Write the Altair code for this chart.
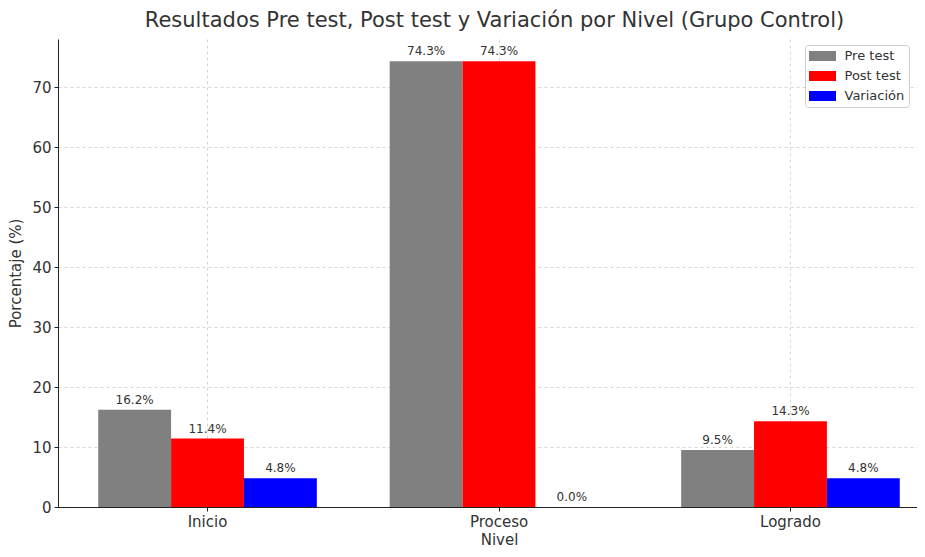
import altair as alt
import pandas as pd

niveles = ["Inicio", "Proceso", "Logrado"]
series = ["Pre test", "Post test", "Variación"]
pre_test = [16.2, 74.3, 9.5]
post_test = [11.4, 74.3, 14.3]
variacion = [4.8, 0.0, 4.8]
colores = ["#808080", "#ff0000", "#0000ff"]
y_ticks = [0, 10, 20, 30, 40, 50, 60, 70]

rows = []
for serie, vals in zip(series, [pre_test, post_test, variacion]):
    for n, v in zip(niveles, vals):
        rows.append({"Nivel": n, "Serie": serie, "Valor": v})
df = pd.DataFrame(rows)

FONT = "DejaVu Sans"
TXT = "#333333"

x_enc = alt.X(
    "Nivel:N",
    sort=niveles,
    scale=alt.Scale(domain=niveles, range=[0, 882], paddingInner=0.25, paddingOuter=0.138),
    axis=alt.Axis(
        title="Nivel", labelAngle=0, labelFontSize=15, titleFontSize=15,
        labelColor=TXT, titleColor=TXT, labelFont=FONT, titleFont=FONT,
        titleFontWeight="normal", domainColor="#222222", tickColor="#222222",
        tickSize=4, labelPadding=3, titlePadding=3, titleX=441,
        grid=True, gridColor="#cccccc", gridDash=[3, 3], gridWidth=0.8,
    ),
)
xoff = alt.XOffset(
    "Serie:N", sort=series,
    scale=alt.Scale(domain=series, paddingInner=0, paddingOuter=0),
)
y_enc = alt.Y(
    "Valor:Q",
    scale=alt.Scale(domain=[0, 78], nice=False),
    axis=alt.Axis(
        title="Porcentaje (%)", values=y_ticks, labelFontSize=15, titleFontSize=15,
        labelColor=TXT, titleColor=TXT, labelFont=FONT, titleFont=FONT,
        titleFontWeight="normal", domainColor="#222222", tickColor="#222222",
        tickSize=4, labelPadding=3, titlePadding=8,
        grid=True, gridColor="#cccccc", gridDash=[3, 3], gridWidth=0.8,
    ),
)

bars = alt.Chart(df).mark_bar(clip=True).encode(
    x=x_enc,
    xOffset=xoff,
    y=y_enc,
    color=alt.Color(
        "Serie:N", sort=series,
        scale=alt.Scale(domain=series, range=colores),
        legend=alt.Legend(
            title=None, orient="none", legendX=747, legendY=6,
            symbolType="M-1.93,-0.714H1.93V0.714H-1.93Z", symbolSize=196,
            symbolStrokeWidth=0, symbolOffset=6.5, labelOffset=15,
            labelFontSize=13, labelFont=FONT, labelColor=TXT,
            rowPadding=6, padding=4, strokeColor="#cccccc", fillColor="#ffffff",
            cornerRadius=3,
        ),
    ),
)

labels = alt.Chart(df).transform_calculate(
    etiqueta="format(datum.Valor, '.1f') + '%'"
).mark_text(
    baseline="alphabetic", dy=-6, fontSize=12, font=FONT, color=TXT, clip=True
).encode(
    x=alt.X("Nivel:N", sort=niveles),
    xOffset=alt.XOffset("Serie:N", sort=series),
    y="Valor:Q",
    text="etiqueta:N",
)

chart = alt.layer(bars, labels).properties(
    width=859,
    height=468,
    title=alt.TitleParams(
        "Resultados Pre test, Post test y Variación por Nivel (Grupo Control)",
        fontSize=21, font=FONT, color=TXT, fontWeight="normal", offset=8, dx=7,
    ),
    autosize=alt.AutoSizeParams(type="none"),
    padding={"left": 50, "top": 31, "right": 0, "bottom": 42},
).configure_view(stroke=None)

chart.save("out.html", embed_options={"renderer": "svg", "actions": False})
